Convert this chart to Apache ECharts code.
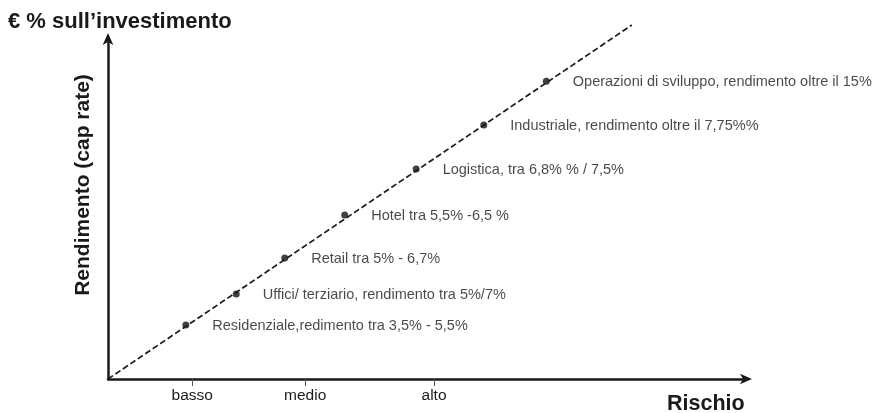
<!DOCTYPE html>
<html>
<head>
<meta charset="utf-8">
<script src="https://cdn.jsdelivr.net/npm/echarts@6/dist/echarts.min.js"></script>
<style>
html,body{margin:0;padding:0;background:#fff;}
#c{width:879px;height:413px;}
</style>
</head>
<body>
<div id="c"></div>
<script>
// ---- data ----
const categories = [
  'Residenziale,redimento tra 3,5% - 5,5%',
  'Uffici/ terziario, rendimento tra 5%/7%',
  'Retail tra 5% - 6,7%',
  'Hotel tra 5,5% -6,5 %',
  'Logistica, tra 6,8% % / 7,5%',
  'Industriale, rendimento oltre il 7,75%%',
  'Operazioni di sviluppo, rendimento oltre il 15%'
];
const riskValues = [12.2, 20.1, 27.7, 37.1, 48.3, 58.9, 68.7];
const returnValues = [15.9, 25.0, 35.6, 48.2, 61.8, 74.7, 87.6];
const trendX = [0, 82.1];
const trendY = [0, 104.1];
const tickValues = [13.2, 30.9, 51.1];
const tickLabels = ['basso', 'medio', 'alto'];

const FONT = '"Liberation Sans", Arial, sans-serif';
const INK = '#1a1a1a';

const chart = echarts.init(document.getElementById('c'), null, {renderer: 'canvas'});

const points = riskValues.map((x, i) => ({value: [x, returnValues[i]], name: categories[i]}));
const trend = trendX.map((x, i) => [x, trendY[i]]);

chart.setOption({
  backgroundColor: '#ffffff',
  animation: false,
  title: {
    text: '€ % sull’investimento',
    left: 3, top: 6,
    textStyle: {fontFamily: FONT, fontWeight: 'bold', fontSize: 22, color: INK}
  },
  grid: {left: 108, right: 133, top: 39, bottom: 34, containLabel: false},
  xAxis: {
    type: 'value', min: 0, max: 100,
    splitLine: {show: false},
    axisLine: {show: true, lineStyle: {color: INK, width: 2.5}, symbol: ['none', 'arrow'], symbolSize: [8, 12], symbolOffset: [0, 6]},
    axisTick: {show: true, customValues: tickValues, length: 7, lineStyle: {color: '#555', width: 1}},
    axisLabel: {
      show: true, customValues: tickValues, margin: 9,
      fontFamily: FONT, fontSize: 15.5, color: INK,
      formatter: (v) => { const i = tickValues.indexOf(v); return i >= 0 ? tickLabels[i] : ''; }
    }
  },
  yAxis: {
    type: 'value', min: 0, max: 100,
    splitLine: {show: false},
    axisLine: {show: true, lineStyle: {color: INK, width: 2.5}, symbol: ['none', 'arrow'], symbolSize: [8, 12], symbolOffset: [0, 6]},
    axisTick: {show: false},
    axisLabel: {show: false},
    name: 'Rendimento (cap rate)',
    nameLocation: 'middle', nameRotate: 90, nameGap: 14,
    nameTextStyle: {fontFamily: FONT, fontWeight: 'bold', fontSize: 21, color: INK, padding: [0, 0, 0, 48]}
  },
  graphic: [{
    type: 'text', left: 667, top: 393,
    style: {text: 'Rischio', fontFamily: FONT, fontWeight: 'bold', fontSize: 21.5, fill: INK}
  }],
  series: [
    {
      type: 'line', data: trend, symbol: 'none', clip: false, silent: true,
      lineStyle: {color: INK, width: 1.7, type: [6, 3]}
    },
    {
      type: 'scatter', data: points, symbolSize: 7, clip: false,
      itemStyle: {color: '#111'},
      label: {
        show: true, position: 'right', distance: 23, offset: [0, 1],
        formatter: (p) => p.name,
        fontFamily: FONT, fontSize: 14.5, color: INK
      }
    }
  ]
});
</script>
</body>
</html>
